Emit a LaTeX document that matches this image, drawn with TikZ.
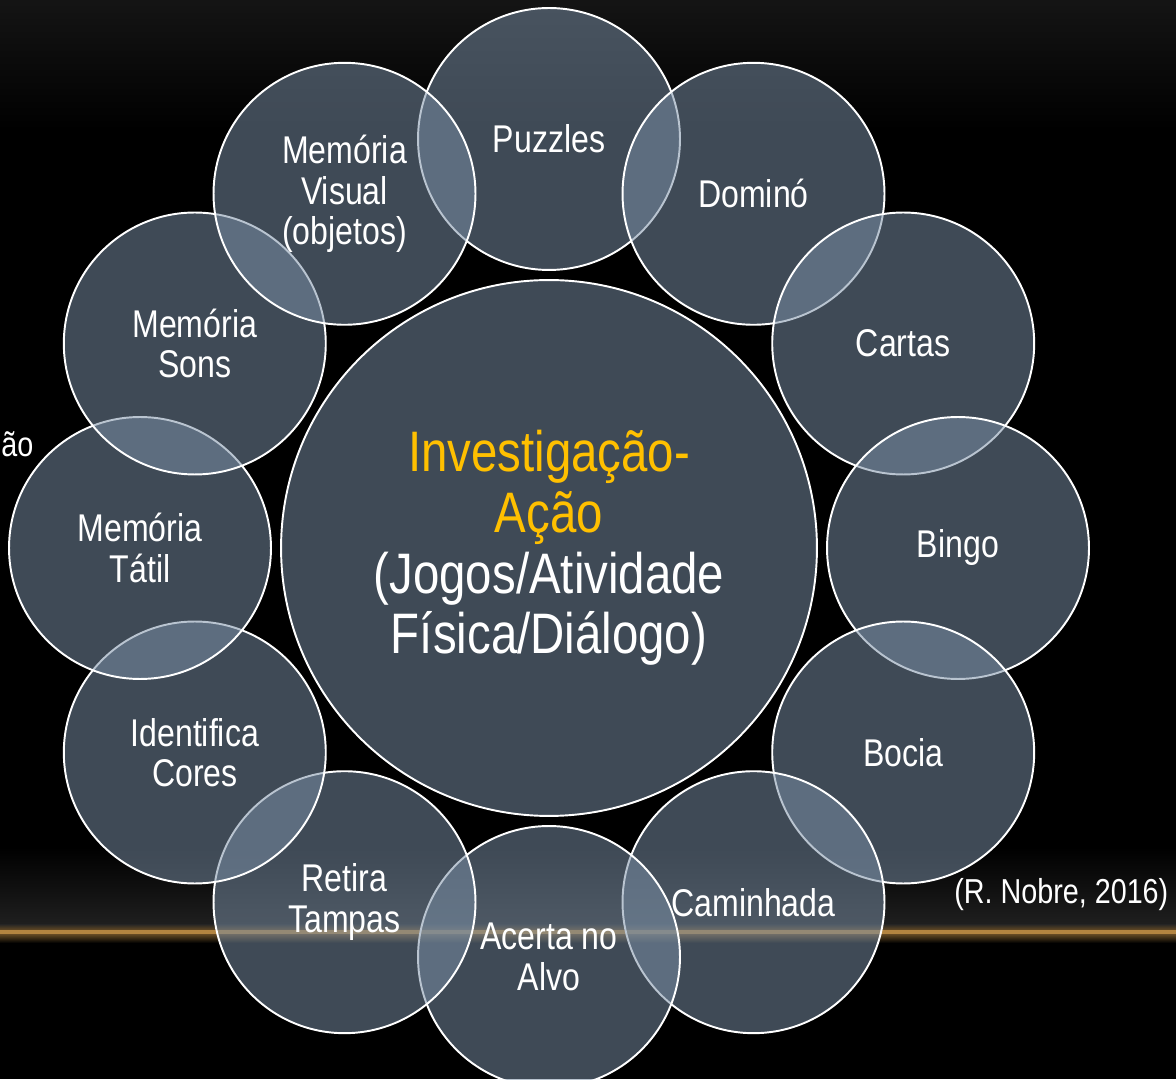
\documentclass[tikz,border=0pt]{standalone}
\usepackage{fontspec}
\setmainfont{Liberation Sans}[FakeStretch=0.83]
\usetikzlibrary{calc,fadings}
\definecolor{slate}{RGB}{121,142,165}
\definecolor{gold}{HTML}{FFC000}
\definecolor{glow}{HTML}{E0A550}
\tikzfading[name=midfade, left color=transparent!100, middle color=transparent!0,
  right color=transparent!100]

\begin{document}
\begin{tikzpicture}[x=0.02cm, y=0.02cm, line join=round,
  bubble/.style={circle, draw=white, line width=1.1pt, fill=slate,
                 fill opacity=0.52, text opacity=1, text=white, align=center,
                 inner sep=2pt},
  small/.style={bubble, minimum size=5.24cm,
                font=\fontsize{22}{23}\selectfont},
  big/.style={bubble, minimum size=10.72cm,
              font=\fontsize{32.5}{34.6}\selectfont},
  note/.style={text=white, inner sep=0pt, font=\fontsize{19.7}{22}\selectfont}]

\useasboundingbox (0,0) rectangle (1176,1079);
\clip (0,0) rectangle (1176,1079);

% slide background and the glow line
\fill[black] (0,0) rectangle (1176,1079);
\shade[top color=black!92, bottom color=black] (0,949) rectangle (1176,1079);
\shade[top color=black, bottom color=black!88] (0,155) rectangle (1176,232);
\shade[top color=black, bottom color=black!78, path fading=midfade]
  (0,155) rectangle (1176,232);
\shade[top color=black!86, bottom color=glow!45!black] (0,149) rectangle (1176,155);
\shade[top color=glow!45!black, bottom color=black] (0,136) rectangle (1176,145);
\fill[glow!80!black] (0,145) rectangle (1176,149);
\fill[glow!55!white, path fading=midfade] (0,145.5) rectangle (1176,148.5);

\node[big] (ctr) at (549,531)
  {\textcolor{gold}{Investigação-}\\\textcolor{gold}{Ação}\\(Jogos/Atividade\\Física/Diálogo)};

\foreach \lab [count=\i from 0] in {Puzzles, Dominó, Cartas, Bingo, Bocia,
    Caminhada, {Acerta no\\Alvo}, {Retira\\Tampas}, {Identifica\\Cores},
    {Memória\\Tátil}, {Memória\\Sons}, {Memória\\Visual\\(objetos)}}
  \node[small] (b\i) at ($(ctr)+({90-30*\i}:409)$) {\lab};

\node[note, anchor=west] (src) at (954,184) {(R. Nobre, 2016)};
\node[note, anchor=west] (cut) at (1,635) {ão};

\end{tikzpicture}
\end{document}
